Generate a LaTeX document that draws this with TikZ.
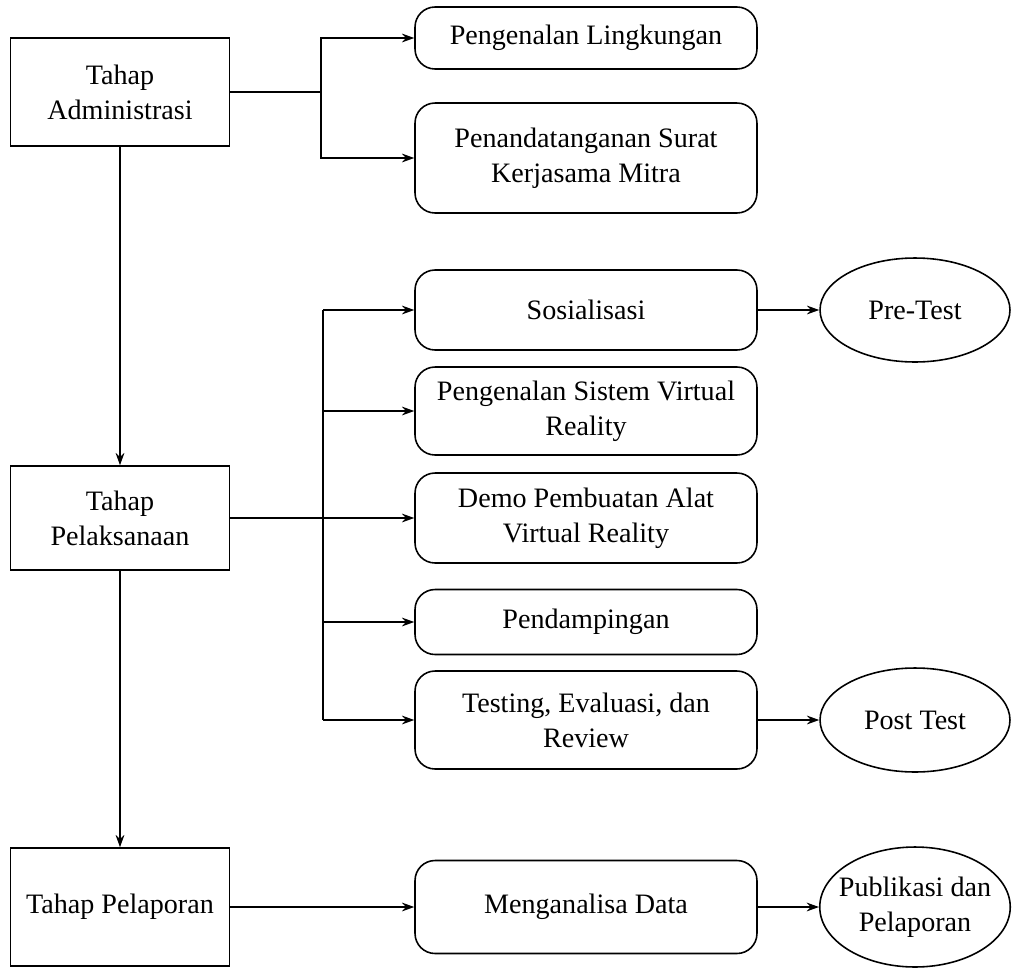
\documentclass[tikz,border=0pt]{standalone}
\usepackage{fontspec}
\setmainfont{Liberation Serif}
\usetikzlibrary{shapes.geometric, arrows.meta, positioning}

\begin{document}
\begin{tikzpicture}[x=0.02cm, y=-0.02cm, >={Stealth[length=7pt, width=5pt]},
    every node/.style={font=\fontsize{16}{20}\selectfont, align=center, inner sep=0pt},
    every path/.style={line width=0.9pt},
    stage/.style={rectangle, draw, minimum width=4.38cm},
    task/.style={rectangle, draw, rounded corners=0.4cm, minimum width=6.84cm},
    result/.style={ellipse, draw, minimum width=3.8cm}]
    \useasboundingbox (0,0) rectangle (1032,978);

    \node [stage, minimum height=2.16cm] (admin) at (120,92) {Tahap\\Administrasi};
    \node [stage, minimum height=2.08cm] (pelaksanaan) at (120,518) {Tahap\\Pelaksanaan};
    \node [stage, minimum height=2.36cm] (pelaporan) at (120,907) {Tahap Pelaporan};

    \node [task, minimum height=1.24cm] (lingkungan) at (586,38) {Pengenalan Lingkungan};
    \node [task, minimum height=2.2cm] (mitra) at (586,158) {Penandatanganan Surat\\Kerjasama Mitra};
    \node [task, minimum height=1.6cm] (sosialisasi) at (586,310) {Sosialisasi};
    \node [task, minimum height=1.76cm] (sistem) at (586,411) {Pengenalan Sistem Virtual\\Reality};
    \node [task, minimum height=1.8cm] (demo) at (586,518) {Demo Pembuatan Alat\\Virtual Reality};
    \node [task, minimum height=1.3cm] (pendampingan) at (586,622) {Pendampingan};
    \node [task, minimum height=1.96cm] (testing) at (586,720) {Testing, Evaluasi, dan\\Review};
    \node [task, minimum height=1.86cm] (analisa) at (586,907) {Menganalisa Data};

    \node [result, minimum height=2.08cm] (pretest) at (915,310) {Pre-Test};
    \node [result, minimum height=2.08cm] (posttest) at (915,720) {Post Test};
    \node [result, minimum height=2.4cm, inner xsep=-5pt] (publikasi) at (915,907) {Publikasi dan\\Pelaporan};

    \coordinate (split1) at (321,92);
    \coordinate (top2) at (323,310);
    \coordinate (bottom2) at (323,720);

    % tahap utama
    \draw[->] (admin) -- (pelaksanaan);
    \draw[->] (pelaksanaan) -- (pelaporan);

    % administrasi
    \draw (admin) -- (split1);
    \draw[->] (split1) |- (lingkungan);
    \draw[->] (split1) |- (mitra);

    % pelaksanaan
    \draw (top2) -- (bottom2);
    \draw[->] (top2) -- (sosialisasi);
    \draw[->] (sistem.west -| top2) -- (sistem);
    \draw[->] (pelaksanaan) -- (demo);
    \draw[->] (pendampingan.west -| top2) -- (pendampingan);
    \draw[->] (bottom2) -- (testing);
    \draw[->] (sosialisasi) -- (pretest);
    \draw[->] (testing) -- (posttest);

    % pelaporan
    \draw[->] (pelaporan) -- (analisa);
    \draw[->] (analisa) -- (publikasi);
\end{tikzpicture}
\end{document}
